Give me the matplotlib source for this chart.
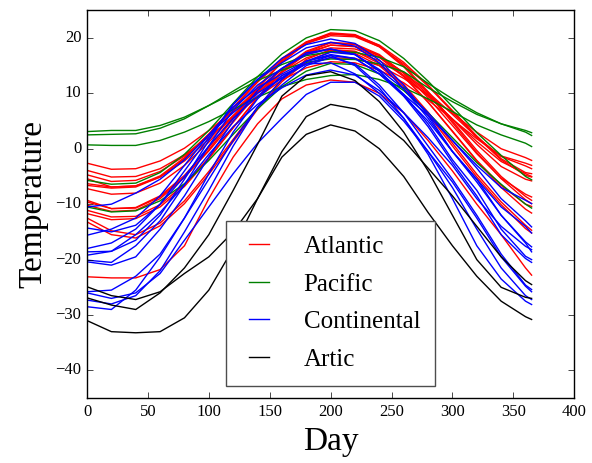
import matplotlib
matplotlib.use("Agg")
import matplotlib.pyplot as plt

days = [0, 20, 40, 60, 80, 100, 120, 140, 160, 180, 200, 220, 240, 260, 280, 300, 320, 340, 360, 365]

# Atlantic stations
atlantic = [
    [-3.9, -5.1, -5.0, -3.6, -1.1, 2.1, 5.8, 9.3, 12.4, 14.6, 15.7, 15.5, 14.2, 11.9, 8.8, 5.3, 1.8, -1.3, -2.6, -3.0],          # St. Johns
    [-4.7, -5.9, -5.7, -4.1, -1.3, 2.5, 6.7, 10.8, 14.4, 17.0, 18.2, 18.0, 16.5, 13.8, 10.2, 6.2, 2.1, -1.4, -3.1, -3.6],        # Halifax
    [-5.4, -6.9, -6.7, -5.1, -2.2, 1.7, 6.0, 10.2, 13.8, 16.4, 17.7, 17.5, 15.9, 13.2, 9.5, 5.4, 1.3, -2.3, -4.5, -5.0],         # Sydney
    [-2.6, -3.7, -3.6, -2.2, 0.1, 3.3, 6.8, 10.2, 13.2, 15.4, 16.4, 16.3, 15.0, 12.7, 9.7, 6.4, 3.0, 0.0, -1.6, -2.1],           # Yarmouth
    [-7.2, -8.2, -8.0, -6.2, -3.0, 1.2, 5.9, 10.5, 14.4, 17.3, 18.7, 18.5, 16.8, 13.7, 9.8, 5.3, 0.8, -3.2, -5.5, -5.8],         # Charlottetown
    [-9.3, -10.8, -10.7, -8.7, -5.1, -0.4, 4.8, 10.0, 14.4, 17.6, 19.2, 18.9, 17.0, 13.6, 9.2, 4.2, -0.9, -5.3, -8.2, -8.7],     # Fredericton
    [-23.1, -23.3, -23.3, -21.8, -17.5, -9.0, -1.5, 4.5, 9.0, 11.5, 12.4, 12.0, 10.0, 6.5, 1.5, -4.0, -10.0, -15.5, -21.5, -22.8],  # Schefferville
    [-12.5, -14.8, -15.5, -13.4, -9.4, -4.1, 1.7, 7.5, 12.5, 16.1, 17.9, 17.6, 15.4, 11.6, 6.6, 1.0, -4.6, -9.6, -13.8, -14.7],  # Arvida
    [-13.2, -15.5, -16.1, -13.9, -9.9, -4.6, 1.3, 7.1, 12.1, 15.7, 17.5, 17.2, 15.0, 11.2, 6.2, 0.5, -5.1, -10.1, -14.4, -15.2], # Bagotville
    [-11.7, -12.8, -12.6, -10.5, -6.8, -1.8, 3.8, 9.3, 14.0, 17.4, 19.1, 18.8, 16.8, 13.2, 8.4, 3.1, -2.2, -7.0, -10.9, -11.6],  # Quebec
    [-11.1, -12.3, -12.2, -10.1, -6.4, -1.6, 3.8, 9.2, 13.8, 17.1, 18.7, 18.4, 16.5, 13.0, 8.4, 3.2, -2.1, -6.6, -10.0, -10.4],  # Sherbrooke
    [-9.6, -10.8, -10.6, -8.5, -4.8, 0.2, 5.7, 11.1, 15.8, 19.2, 20.9, 20.6, 18.6, 15.0, 10.3, 5.0, -0.3, -5.0, -8.6, -9.3],     # Montreal
    [-10.2, -11.3, -11.1, -9.0, -5.2, -0.2, 5.4, 10.9, 15.6, 19.0, 20.7, 20.4, 18.4, 14.8, 10.0, 4.7, -0.7, -5.4, -9.2, -9.9],   # Ottawa
    [-6.3, -6.9, -6.7, -4.9, -1.6, 2.7, 7.5, 12.2, 16.3, 19.3, 20.7, 20.5, 18.7, 15.6, 11.5, 6.9, 2.3, -1.8, -4.3, -4.5],        # Toronto
    [-6.6, -7.1, -6.9, -5.1, -1.8, 2.5, 7.3, 12.0, 16.0, 19.0, 20.4, 20.2, 18.4, 15.3, 11.3, 6.7, 2.1, -2.0, -4.8, -5.1],        # London
]

# Pacific stations
pacific = [
    [2.5, 2.6, 2.7, 3.7, 5.4, 7.8, 10.4, 13.0, 15.2, 16.8, 17.5, 17.4, 16.5, 14.8, 11.8, 9.0, 6.5, 4.5, 3.0, 2.4],               # Vancouver
    [3.1, 3.3, 3.3, 4.2, 5.7, 7.8, 10.0, 12.3, 14.2, 15.6, 16.2, 16.1, 15.3, 13.9, 11.0, 8.5, 6.2, 4.5, 3.3, 2.9],               # Victoria
    [0.7, 0.6, 0.6, 1.5, 3.0, 4.9, 7.1, 9.3, 11.2, 12.5, 13.2, 13.4, 12.5, 11.0, 9.0, 6.7, 4.3, 2.5, 1.0, 0.4],                  # Pr. Rupert
    [-10.5, -11.4, -11.2, -9.4, -6.3, -2.1, 2.6, 7.2, 11.2, 14.0, 15.4, 15.2, 13.5, 10.5, 6.5, 2.0, -2.5, -6.4, -10.0, -10.7],   # Pr. George
    [-5.7, -6.4, -6.2, -4.3, -1.0, 3.3, 8.2, 13.0, 17.1, 20.0, 21.5, 21.3, 19.5, 16.3, 12.2, 7.6, 2.9, -1.2, -5.0, -5.6],        # Kamloops
]

# Continental stations
continental = [
    [-14.3, -15.0, -13.8, -10.0, -5.0, 0.5, 5.5, 9.5, 12.8, 15.8, 17.4, 17.0, 14.3, 10.8, 6.5, 1.5, -3.5, -9.0, -13.0, -14.1],     # Thunder Bay
    [-18.6, -18.5, -16.5, -12.0, -5.5, 1.5, 8.0, 12.5, 16.3, 18.8, 19.8, 19.0, 16.0, 11.5, 6.0, -0.5, -5.5, -12.0, -17.0, -18.6],  # Winnipeg
    [-20.4, -21.0, -19.5, -14.5, -8.5, -1.5, 5.0, 10.5, 14.5, 17.3, 18.0, 17.0, 14.0, 9.5, 4.0, -2.5, -8.5, -15.5, -19.8, -20.5],  # The Pas
    [-26.0, -27.0, -26.0, -22.5, -16.5, -10.5, -4.5, 1.0, 5.5, 9.8, 12.0, 12.0, 9.5, 5.0, -0.5, -6.0, -12.5, -19.5, -24.8, -25.8], # Churchill
    [-18.0, -17.0, -14.5, -10.0, -4.0, 2.0, 8.0, 12.5, 15.5, 18.2, 19.2, 18.5, 15.5, 10.8, 5.5, -0.5, -6.0, -12.0, -16.8, -17.7],  # Regina
    [-20.1, -20.5, -17.5, -13.0, -6.5, 0.5, 7.0, 11.5, 14.5, 17.0, 18.0, 17.0, 14.0, 9.8, 4.5, -2.0, -7.5, -14.5, -19.4, -20.0],   # Pr. Albert
    [-25.8, -25.5, -23.0, -19.0, -12.5, -5.5, 1.5, 7.5, 11.5, 15.0, 16.5, 15.3, 11.5, 6.5, 0.5, -5.5, -12.0, -19.0, -24.6, -25.4], # Uranium City
    [-15.6, -14.5, -12.5, -8.5, -3.0, 2.5, 7.5, 11.0, 13.5, 15.8, 17.0, 16.3, 13.5, 9.5, 5.0, -0.5, -5.5, -10.5, -14.0, -15.2],    # Edmonton
    [-10.5, -10.0, -8.0, -5.5, -2.0, 2.5, 6.5, 10.0, 12.8, 15.3, 16.8, 16.3, 13.5, 9.8, 6.0, 1.5, -3.0, -7.0, -9.3, -9.9],         # Calgary
    [-19.2, -18.5, -15.5, -11.5, -6.5, -1.0, 4.0, 8.0, 11.0, 13.3, 14.2, 13.3, 10.5, 6.5, 2.0, -3.0, -9.0, -14.0, -17.6, -18.2],   # Whitehorse
    [-28.5, -29.0, -25.5, -19.5, -12.5, -4.5, 3.0, 9.0, 13.2, 15.3, 15.5, 13.5, 10.0, 5.5, -1.0, -9.0, -17.5, -23.5, -27.5, -28.1], # Dawson
    [-27.3, -28.0, -26.5, -22.0, -15.0, -7.5, 0.5, 7.5, 12.5, 15.8, 16.8, 15.0, 11.0, 5.5, -0.5, -7.0, -14.5, -21.5, -26.5, -27.2], # Yellowknife
]

# Arctic stations
artic = [
    [-24.9, -26.5, -27.2, -25.8, -22.5, -19.5, -15.0, -9.0, -0.5, 5.8, 8.0, 7.2, 5.0, 1.5, -3.5, -8.5, -14.0, -19.5, -23.8, -24.5],      # Iqaluit
    [-26.9, -28.2, -29.0, -26.0, -21.5, -15.5, -7.5, 0.8, 9.5, 13.2, 13.9, 12.3, 8.5, 3.0, -4.0, -12.0, -20.0, -25.0, -26.8, -27.0],     # Inuvik
    [-31.0, -33.0, -33.2, -33.0, -30.5, -25.5, -18.0, -9.0, -1.5, 2.6, 4.3, 3.2, 0.0, -5.0, -11.5, -17.5, -23.0, -27.5, -30.3, -30.8],  # Resolute
]

groups = [("Atlantic", atlantic, "r"), ("Pacific", pacific, "g"),
          ("Continental", continental, "b"), ("Artic", artic, "k")]

plt.style.use("classic")
plt.rcParams["font.family"] = ["Liberation Serif", "DejaVu Serif"]

fig = plt.figure(figsize=(5.92, 4.63), dpi=100)
ax = fig.add_axes([0.147, 0.140, 0.823, 0.838])

for name, curves, col in groups:
    for i, c in enumerate(curves):
        ax.plot(days, c, color=col, lw=1.0, label=name if i == 0 else None)

ax.set_xlim(0, 400)
ax.set_ylim(-45, 25)
ax.set_xlabel("Day", fontsize=24)
ax.set_ylabel("Temperature", fontsize=24)
ax.tick_params(labelsize=12)

leg = ax.legend(loc="lower center", fontsize=18, handlelength=1.4,
                handletextpad=1.1, labelspacing=0.6, borderpad=0.6,
                bbox_to_anchor=(0.5, 0.0), borderaxespad=0.5)
leg.get_frame().set_edgecolor("0.3")

fig.savefig("out.png", dpi=100, facecolor="white")
